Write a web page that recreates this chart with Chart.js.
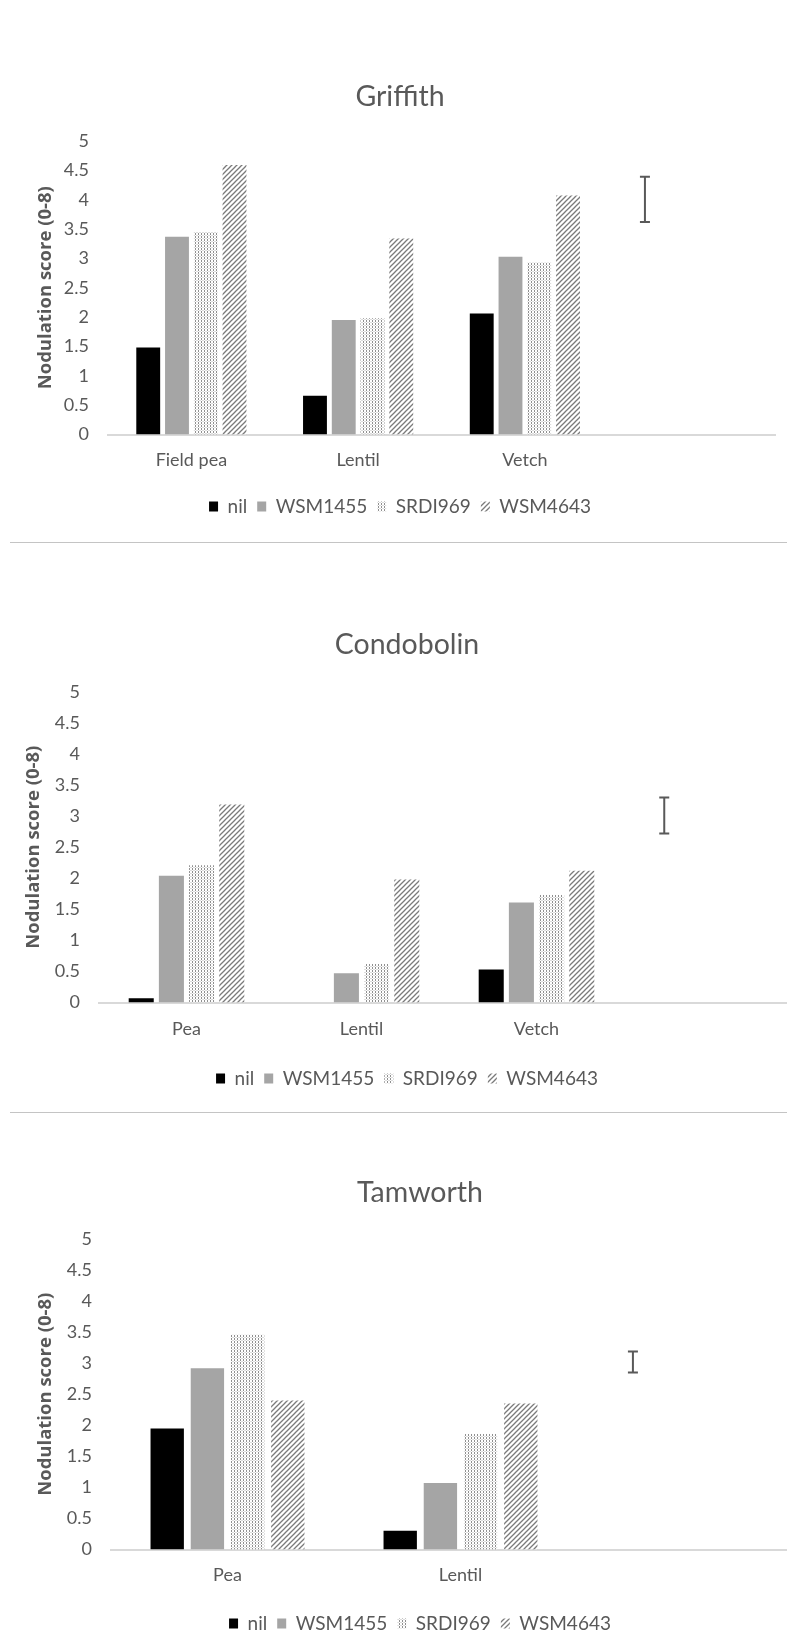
<!DOCTYPE html>
<html>
<head>
<meta charset="utf-8">
<script src="https://cdn.jsdelivr.net/npm/chart.js@4.4.1/dist/chart.umd.min.js"></script>
<style>
  html, body { margin: 0; padding: 0; background: #fff; overflow: hidden; }
  #page { position: relative; width: 787px; height: 1634px; overflow: hidden; background: #fff; }
  canvas { position: absolute; left: 0; }
  .sep { position: absolute; left: 10px; right: 0; height: 1px; background: #c4c4c4; }
</style>
</head>
<body>
<div id="page">
  <canvas id="griffith" width="787" height="479" style="top:47px"></canvas>
  <div class="sep" style="top:542px"></div>
  <canvas id="condobolin" width="810" height="503" style="top:595px"></canvas>
  <div class="sep" style="top:1112px"></div>
  <canvas id="tamworth" width="820" height="500" style="top:1143px"></canvas>
</div>
<script>
// series names (legend order)
const seriesNames = ['nil', 'WSM1455', 'SRDI969', 'WSM4643'];
const yTitle = 'Nodulation score (0-8)';

// Griffith
const griffithCats = ['Field pea', 'Lentil', 'Vetch', ''];
const griffithNil = [1.48, 0.66, 2.06, null];
const griffithWSM1455 = [3.37, 1.95, 3.03, null];
const griffithSRDI969 = [3.45, 1.98, 2.93, null];
const griffithWSM4643 = [4.59, 3.34, 4.07, null];
const griffithLsd = [3.62, 4.39];

// Condobolin
const condoCats = ['Pea', 'Lentil', 'Vetch', ''];
const condoNil = [0.07, 0, 0.53, null];
const condoWSM1455 = [2.04, 0.47, 1.61, null];
const condoSRDI969 = [2.21, 0.62, 1.73, null];
const condoWSM4643 = [3.19, 1.98, 2.12, null];
const condoLsd = [2.72, 3.30];

// Tamworth
const tamCats = ['Pea', 'Lentil', ''];
const tamNil = [1.95, 0.30, null];
const tamWSM1455 = [2.92, 1.07, null];
const tamSRDI969 = [3.46, 1.86, null];
const tamWSM4643 = [2.40, 2.35, null];
const tamLsd = [2.85, 3.19];

const TXT = '#595959';
Chart.defaults.font.family = 'Lato';
Chart.defaults.color = TXT;

function dotPattern() {
  const c = document.createElement('canvas');
  c.width = 3; c.height = 3;
  const g = c.getContext('2d');
  g.fillStyle = '#fff'; g.fillRect(0, 0, 3, 3);
  g.fillStyle = '#dcdcdc'; g.fillRect(1, 2, 2, 1);
  g.fillStyle = '#8f8f8f'; g.fillRect(0, 0, 1, 2);
  return g.createPattern(c, 'repeat');
}
function hatchPattern() {
  const c = document.createElement('canvas');
  c.width = 5; c.height = 5;
  const g = c.getContext('2d');
  g.fillStyle = '#fff'; g.fillRect(0, 0, 5, 5);
  g.strokeStyle = '#7a7a7a'; g.lineWidth = 1.3;
  g.beginPath();
  g.moveTo(-1, 6); g.lineTo(6, -1);
  g.moveTo(-1, 1); g.lineTo(1, -1);
  g.moveTo(4, 6); g.lineTo(6, 4);
  g.stroke();
  return g.createPattern(c, 'repeat');
}
const fills = ['#000000', '#a5a5a5', dotPattern(), hatchPattern()];

// LSD bar drawn through the chart's own scales
const lsdPlugin = {
  id: 'lsd',
  afterDatasetsDraw(chart, args, opts) {
    const { ctx, scales: { x, y } } = chart;
    const px = x.getPixelForValue(opts.at);
    const yt = y.getPixelForValue(opts.range[1]);
    const yb = y.getPixelForValue(opts.range[0]);
    ctx.save();
    ctx.strokeStyle = TXT; ctx.lineWidth = 2;
    ctx.beginPath();
    ctx.moveTo(px, yt); ctx.lineTo(px, yb);
    ctx.moveTo(px - 5, yt); ctx.lineTo(px + 5, yt);
    ctx.moveTo(px - 5, yb); ctx.lineTo(px + 5, yb);
    ctx.stroke();
    ctx.restore();
  }
};

function makeChart(id, title, cats, series, lsd, lsdAt, L) {
  return new Chart(document.getElementById(id), {
    type: 'bar',
    data: {
      labels: cats,
      datasets: series.map((d, i) => ({
        label: seriesNames[i], data: d, backgroundColor: fills[i], borderWidth: 0,
        categoryPercentage: 0.69, barPercentage: 0.83
      }))
    },
    plugins: [lsdPlugin],
    options: {
      responsive: false, animation: false,
      layout: { padding: { left: L.padL, right: L.padR, top: 0, bottom: 0 } },
      plugins: {
        title: { display: true, text: title, color: TXT, font: { size: 28.5, weight: 'normal' }, padding: { top: 32.9, bottom: L.titleGap } },
        legend: { position: 'bottom', labels: { boxWidth: 9, boxHeight: 10, padding: 10, color: TXT, font: { size: 19 } } },
        tooltip: { enabled: false },
        lsd: { at: lsdAt, range: lsd }
      },
      scales: {
        x: {
          grid: { display: false, drawTicks: false },
          border: { display: true, color: '#d9d9d9', width: 2 },
          ticks: { padding: L.xPad, color: TXT, font: { size: 18 } },
          afterFit(s) { s.height = L.xH; }
        },
        y: {
          min: 0, max: 5,
          grid: { display: false, drawTicks: false },
          border: { display: false },
          ticks: { stepSize: 0.5, padding: L.yPad, color: TXT, font: { size: 18 }, callback: v => String(v) },
          title: { display: true, text: yTitle, color: TXT, font: { family: 'Open Sans', size: 18.5, weight: 'bold' }, padding: { top: L.yTitlePad, bottom: 0 } },
          afterFit(s) { s.width = L.yW; }
        }
      }
    }
  });
}

makeChart('griffith', 'Griffith', griffithCats,
  [griffithNil, griffithWSM1455, griffithSRDI969, griffithWSM4643], griffithLsd, 2.72,
  { padL: 25, padR: 12, yW: 83, yPad: 19, yTitlePad: 10, titleGap: 26.9, xPad: 15.2, xH: 52.5 });

makeChart('condobolin', 'Condobolin', condoCats,
  [condoNil, condoWSM1455, condoSRDI969, condoWSM4643], condoLsd, 2.73,
  { padL: 15, padR: 11, yW: 84, yPad: 19, yTitlePad: 8, titleGap: 29.9, xPad: 16.2, xH: 56.5 });

makeChart('tamworth', 'Tamworth', tamCats,
  [tamNil, tamWSM1455, tamSRDI969, tamWSM4643], tamLsd, 1.74,
  { padL: 30, padR: 10, yW: 81, yPad: 19, yTitlePad: 5, titleGap: 28.9, xPad: 15.2, xH: 54.5 });
</script>
</body>
</html>
